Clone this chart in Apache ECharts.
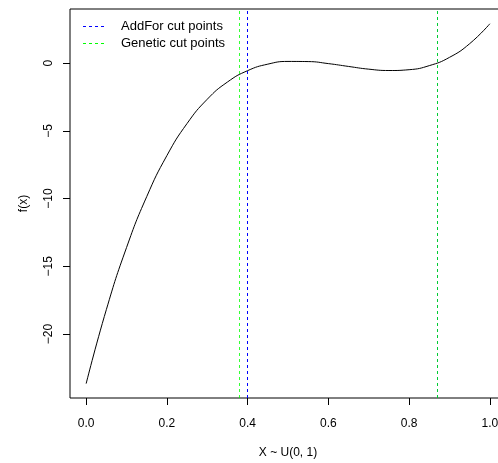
<!DOCTYPE html>
<html>
<head>
<meta charset="utf-8">
<script src="https://cdn.jsdelivr.net/npm/echarts@6/dist/echarts.min.js"></script>
<style>html,body{margin:0;padding:0;background:#fff}#c{width:498px;height:463px}</style>
</head>
<body>
<div id="c"></div>
<script>
// Data
const xValues = [0, 0.05, 0.1, 0.15, 0.2, 0.25, 0.3, 0.35, 0.4, 0.45, 0.5, 0.55, 0.6, 0.65, 0.7, 0.75, 0.8, 0.85, 0.9, 0.95, 1.0];
const fValues = [-23.66, -18.20, -13.62, -9.86, -6.83, -4.46, -2.67, -1.40, -0.56, -0.08, 0.12, 0.11, -0.04, -0.25, -0.45, -0.55, -0.49, -0.19, 0.42, 1.43, 2.90];
const addForCuts = [0.395, 0.8666];
const geneticCuts = [0.377, 0.8666];
const xTicks = [0, 0.2, 0.4, 0.6, 0.8, 1.0];
const yTicks = [-20, -15, -10, -5, 0];
const legendNames = ['AddFor cut points', 'Genetic cut points'];
const xTitle = 'X ~ U(0, 1)';
const yTitle = 'f(x)';

const FONT = 'Liberation Sans, Arial, sans-serif';
const BLUE = '#0000ff';
const GREEN = '#00ff00';
const chart = echarts.init(document.getElementById('c'), null, {renderer: 'canvas'});
const curve = xValues.map((x, i) => [x, fValues[i]]);

function cutLines(values, color, opacity) {
  return values.map(v => ({xAxis: v, lineStyle: {color: color, width: 1, type: [3, 3], opacity: opacity}}));
}

chart.setOption({
  animation: false,
  backgroundColor: '#fff',
  grid: {left: 70, top: 9, right: -8, bottom: 65, outerBoundsMode: 'none', containLabel: false,
    show: true, borderColor: '#000', borderWidth: 1, backgroundColor: 'transparent'},
  xAxis: {
    type: 'value', min: -0.04, max: 1.04,
    name: xTitle, nameLocation: 'middle', nameGap: 49,
    nameTextStyle: {fontFamily: FONT, fontSize: 12, color: '#000'},
    axisLine: {show: false, onZero: false},
    splitLine: {show: false},
    axisTick: {show: true, length: 7, inside: false, customValues: xTicks, lineStyle: {color: '#000'}},
    axisLabel: {customValues: xTicks, margin: 20, fontFamily: FONT, fontSize: 12, color: '#000',
      formatter: v => v.toFixed(1)}
  },
  yAxis: {
    type: 'value', min: -24.72, max: 3.99,
    name: yTitle, nameLocation: 'middle', nameGap: 40,
    nameTextStyle: {fontFamily: FONT, fontSize: 12, color: '#000'},
    axisLine: {show: false, onZero: false},
    splitLine: {show: false},
    axisTick: {show: true, length: 7, inside: false, customValues: yTicks, lineStyle: {color: '#000'}},
    axisLabel: {customValues: yTicks, rotate: 90, margin: 15, fontFamily: FONT, fontSize: 12, color: '#000',
      formatter: v => String(v).replace('-', '\u2212')}
  },
  series: [
    {
      type: 'line', data: curve, smooth: true, showSymbol: false, symbol: 'none',
      color: '#000', lineStyle: {color: '#000', width: 1}, z: 3
    },
    {
      name: legendNames[0], type: 'line', data: [], z: 4, color: BLUE,
      markLine: {
        silent: true, symbol: 'none', label: {show: false},
        itemStyle: {color: BLUE},
        lineStyle: {color: BLUE, width: 1, type: [3, 3]},
        data: cutLines(addForCuts, BLUE, 1)
      }
    },
    {
      name: legendNames[1], type: 'line', data: [], z: 5, color: GREEN,
      markLine: {
        silent: true, symbol: 'none', label: {show: false},
        itemStyle: {color: GREEN},
        lineStyle: {color: GREEN, width: 1, type: [3, 3], opacity: 0.8},
        data: cutLines(geneticCuts, GREEN, 0.8)
      }
    }
  ],
  graphic: [
    {type: 'line', z: 10, shape: {x1: 83, y1: 26.5, x2: 105, y2: 26.5}, style: {stroke: BLUE, lineWidth: 1, lineDash: [3, 3], opacity: 1}},
    {type: 'line', z: 10, shape: {x1: 83, y1: 43.5, x2: 105, y2: 43.5}, style: {stroke: GREEN, lineWidth: 1, lineDash: [3, 3], opacity: 1}},
    {type: 'text', z: 10, x: 121, y: 26, style: {text: legendNames[0], font: '13px ' + FONT, fill: '#000', verticalAlign: 'middle'}},
    {type: 'text', z: 10, x: 121, y: 43, style: {text: legendNames[1], font: '13px ' + FONT, fill: '#000', verticalAlign: 'middle'}}
  ]
});
</script>
</body>
</html>
